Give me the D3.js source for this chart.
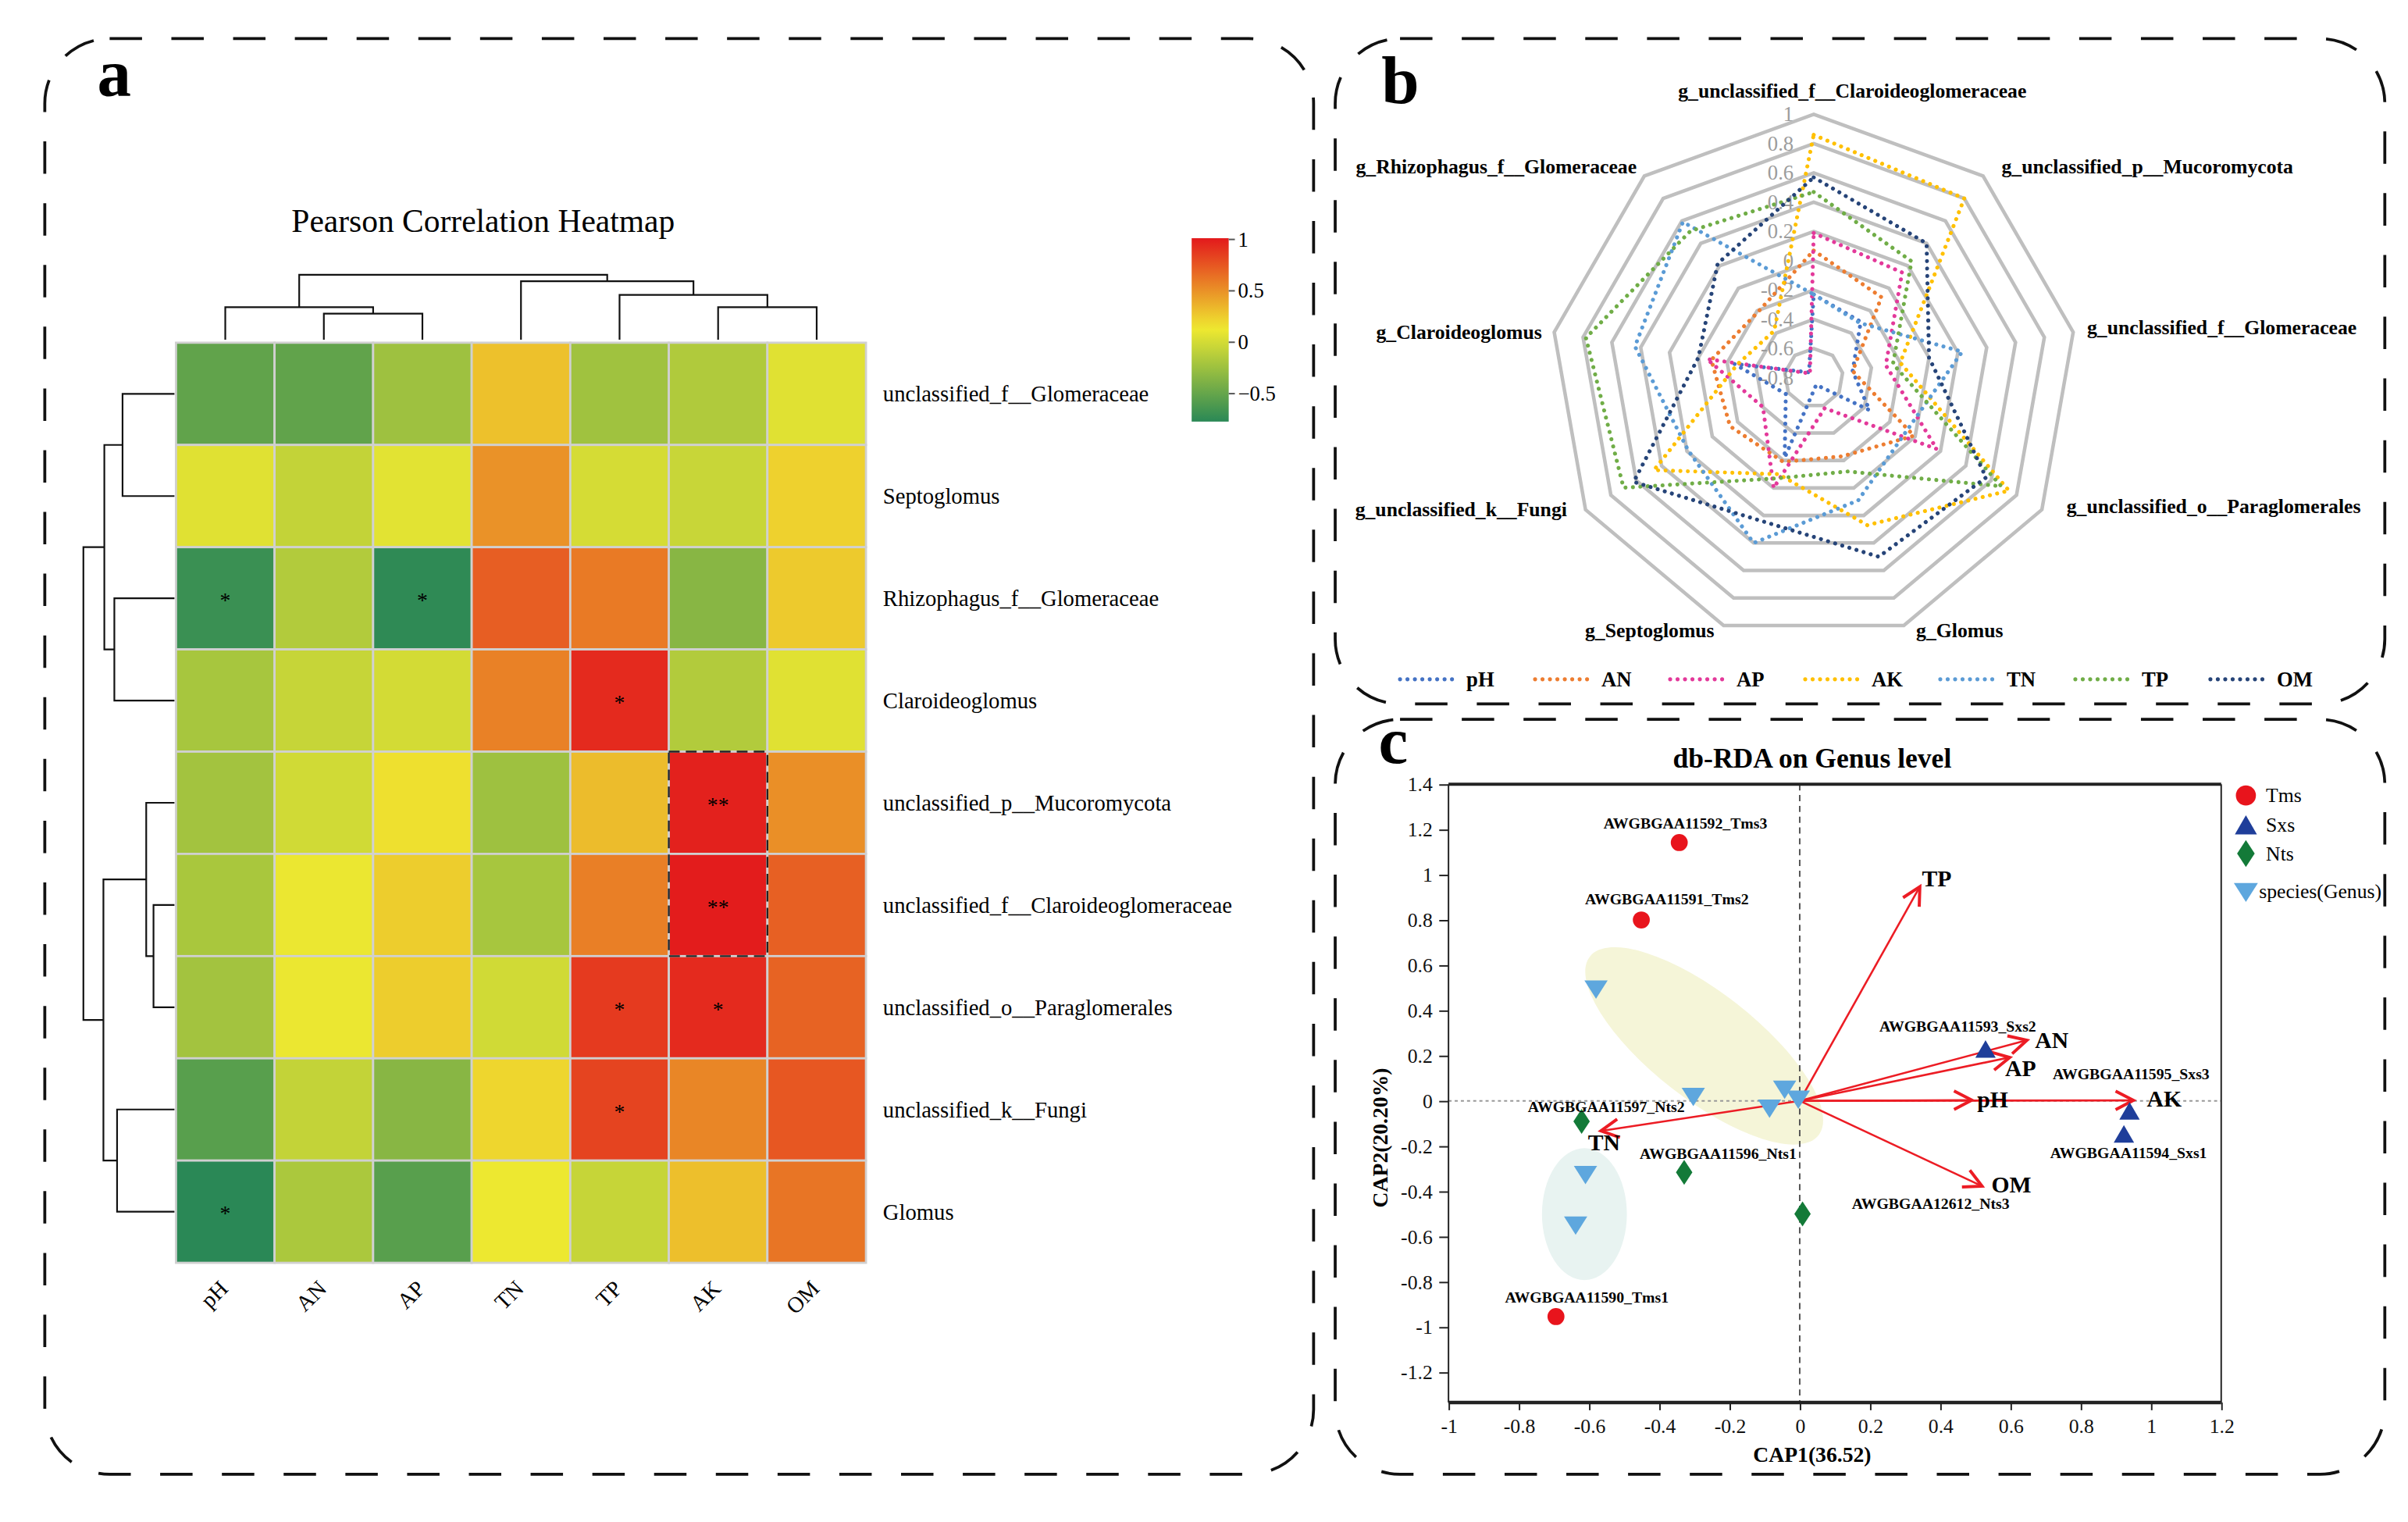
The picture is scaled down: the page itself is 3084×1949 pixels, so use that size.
<!DOCTYPE html>
<html><head><meta charset="utf-8">
<script src="https://cdn.jsdelivr.net/npm/d3@7/dist/d3.min.js"></script>
<style>
html,body{margin:0;padding:0;background:#fff;}
svg{display:block;}
text{font-family:"Liberation Serif","Times New Roman",serif;}
</style></head><body>
<svg id="chart" width="3084" height="1949" viewBox="0 0 1560 985.9"></svg>
<script>
// ================= DATA =================
// Panel a : Pearson correlation heatmap
const envVars = ["pH","AN","AP","TN","TP","AK","OM"];
const heatRows = ["unclassified_f__Glomeraceae","Septoglomus","Rhizophagus_f__Glomeraceae","Claroideoglomus",
  "unclassified_p__Mucoromycota","unclassified_f__Claroideoglomeraceae","unclassified_o__Paraglomerales",
  "unclassified_k__Fungi","Glomus"];
const heatValues = [
  [-0.52,-0.52,-0.24, 0.30,-0.23,-0.16, 0.06],
  [ 0.06,-0.07, 0.07, 0.50, 0.01,-0.05, 0.23],
  [-0.70,-0.15,-0.75, 0.72, 0.60,-0.34, 0.26],
  [-0.20,-0.06, 0.00, 0.57, 0.94,-0.15, 0.06],
  [-0.22,-0.01, 0.17,-0.24, 0.32, 0.98, 0.51],
  [-0.19, 0.11, 0.25,-0.20, 0.58, 1.00, 0.71],
  [-0.22, 0.11, 0.25,-0.01, 0.87, 0.94, 0.70],
  [-0.56,-0.07,-0.34, 0.21, 0.83, 0.55, 0.75],
  [-0.77,-0.18,-0.56, 0.12,-0.06, 0.31, 0.62]
];
const heatSig = [
  ["","","","","","",""],
  ["","","","","","",""],
  ["*","","*","","","",""],
  ["","","","","*","",""],
  ["","","","","","**",""],
  ["","","","","","**",""],
  ["","","","","*","*",""],
  ["","","","","*","",""],
  ["*","","","","","",""]
];
const heatHighlight = {col:"AK", rows:[4,5]};
const colTree = {h:1.0, children:[
  {h:0.50, children:[{leaf:"pH"},{h:0.40, children:[{leaf:"AN"},{leaf:"AP"}]}]},
  {h:0.90, children:[{leaf:"TN"},{h:0.69, children:[{leaf:"TP"},{h:0.50, children:[{leaf:"AK"},{leaf:"OM"}]}]}]}
]};
const rowTree = {h:1.0, children:[
  {h:0.77, children:[{h:0.57, children:[{leaf:0},{leaf:1}]},{h:0.66, children:[{leaf:2},{leaf:3}]}]},
  {h:0.78, children:[{h:0.31, children:[{leaf:4},{h:0.23, children:[{leaf:5},{leaf:6}]}]},{h:0.63, children:[{leaf:7},{leaf:8}]}]}
]};
const heatLegendTicks = [1,0.5,0,-0.5];

// Panel b : radar
const radarAxes = ["g_unclassified_f__Claroideoglomeraceae","g_unclassified_p__Mucoromycota","g_unclassified_f__Glomeraceae",
  "g_unclassified_o__Paraglomerales","g_Glomus","g_Septoglomus","g_unclassified_k__Fungi","g_Claroideoglomus","g_Rhizophagus_f__Glomeraceae"];
const radarSeries = ["pH","AN","AP","AK","TN","TP","OM"];
const radarPH = [-0.23,-0.30,-0.53,-0.36,-0.75,-0.22,-0.58,-0.25,-0.75];
const radarAN = [ 0.07,-0.08,-0.53,-0.01,-0.23,-0.19,-0.14,-0.09,-0.21];
const radarAP = [ 0.19, 0.14,-0.30, 0.17,-0.58, 0.00,-0.40,-0.06,-0.76];
const radarAK = [ 0.86, 0.80,-0.20, 0.74, 0.27,-0.10, 0.46,-0.27,-0.38];
const radarTN = [-0.23,-0.31, 0.23,-0.07, 0.09, 0.40, 0.19, 0.44, 0.59];
const radarTP = [ 0.47, 0.24,-0.25, 0.68,-0.12,-0.07, 0.70, 0.78, 0.51];
const radarOM = [ 0.57, 0.40, 0.00, 0.56, 0.50, 0.24, 0.62, 0.00, 0.22];
const radarTicks = [1,0.8,0.6,0.4,0.2,0,-0.2,-0.4,-0.6,-0.8];

// Panel c : db-RDA
const sampleNames = ["AWGBGAA11592_Tms3","AWGBGAA11591_Tms2","AWGBGAA11590_Tms1","AWGBGAA11593_Sxs2","AWGBGAA11594_Sxs1",
  "AWGBGAA11595_Sxs3","AWGBGAA11597_Nts2","AWGBGAA11596_Nts1","AWGBGAA12612_Nts3"];
const sampleGroup = ["Tms","Tms","Tms","Sxs","Sxs","Sxs","Nts","Nts","Nts"];
const sampleCAP1 = [-0.343,-0.451,-0.694, 0.529, 0.923, 0.939,-0.621,-0.329, 0.008];
const sampleCAP2 = [ 1.142, 0.800,-0.954, 0.227,-0.148,-0.046,-0.091,-0.316,-0.500];
const speciesCAP1 = [-0.580,-0.303,-0.043,-0.004,-0.086,-0.610,-0.638];
const speciesCAP2 = [ 0.497, 0.022, 0.054, 0.010,-0.030,-0.323,-0.547];
const envNames = ["TP","AN","AP","pH","AK","OM","TN"];
const envCAP1 = [0.342,0.647,0.598,0.490,0.950,0.519,-0.566];
const envCAP2 = [0.947,0.268,0.192,0.003,0.002,-0.377,-0.133];
const groupNames = ["Tms","Sxs","Nts","species(Genus)"];
const xTicksRDA = [-1,-0.8,-0.6,-0.4,-0.2,0,0.2,0.4,0.6,0.8,1,1.2];
const yTicksRDA = [1.4,1.2,1,0.8,0.6,0.4,0.2,0,-0.2,-0.4,-0.6,-0.8,-1,-1.2];

// ================= DRAW =================
const svg = d3.select("#chart");
const SERIF = '"Liberation Serif","Times New Roman",serif';
const SANS = '"Liberation Sans",Arial,sans-serif';

// ---- panel frames ----
function roundRectPath(x0,y0,x1,y1,r){
  return `M${x0+r},${y0}H${x1-r}A${r},${r} 0 0 1 ${x1},${y0+r}V${y1-r}A${r},${r} 0 0 1 ${x1-r},${y1}H${x0+r}A${r},${r} 0 0 1 ${x0},${y1-r}V${y0+r}A${r},${r} 0 0 1 ${x0+r},${y0}Z`;
}
const frames = [[29,25,851,955],[865,25,1545,456],[865,466,1545,955]];
svg.append("g").selectAll("path").data(frames).join("path")
  .attr("d",d=>roundRectPath(d[0],d[1],d[2],d[3],42))
  .attr("fill","none").attr("stroke","#111").attr("stroke-width",1.9).attr("stroke-dasharray","21 19");

const letters = [["a",63,62,44],["b",895,67,44],["c",893,494,43]];
svg.append("g").selectAll("text").data(letters).join("text")
  .attr("x",d=>d[1]).attr("y",d=>d[2]).text(d=>d[0])
  .attr("font-size",d=>d[3]).attr("font-weight","bold").attr("fill","#000");

// ================= PANEL A =================
const gA = svg.append("g");
const hx = d3.scaleBand().domain(envVars).range([114,561]);
const hy = d3.scaleBand().domain(d3.range(heatRows.length)).range([222,818]);
const heatColor = d3.scaleLinear().domain([-0.772,0.13,1.012]).range(["#2a8856","#efe930","#e3191c"]).clamp(true);

gA.append("text").attr("x",313).attr("y",150).attr("text-anchor","middle")
  .attr("font-size",21).text("Pearson Correlation Heatmap");

const cells = [];
heatValues.forEach((row,i)=>row.forEach((v,j)=>cells.push({i,j,v,s:heatSig[i][j]})));
gA.append("g").selectAll("rect").data(cells).join("rect")
  .attr("x",d=>hx(envVars[d.j])).attr("y",d=>hy(d.i))
  .attr("width",hx.bandwidth()).attr("height",hy.bandwidth())
  .attr("fill",d=>heatColor(d.v)).attr("stroke","#d0d0d0").attr("stroke-width",1.4);
gA.append("g").selectAll("text").data(cells.filter(d=>d.s)).join("text")
  .attr("x",d=>hx(envVars[d.j])+hx.bandwidth()/2).attr("y",d=>hy(d.i)+hy.bandwidth()/2+6)
  .attr("text-anchor","middle").attr("font-size",14).text(d=>d.s);
gA.append("rect")
  .attr("x",hx(heatHighlight.col)).attr("y",hy(heatHighlight.rows[0]))
  .attr("width",hx.bandwidth()).attr("height",hy.bandwidth()*heatHighlight.rows.length)
  .attr("fill","none").attr("stroke","#222").attr("stroke-width",1.2).attr("stroke-dasharray","7 4");

// row labels
gA.append("g").selectAll("text").data(heatRows).join("text")
  .attr("x",572).attr("y",(d,i)=>hy(i)+hy.bandwidth()/2).attr("dominant-baseline","central")
  .attr("font-size",14.5).text(d=>d);
// column labels
gA.append("g").selectAll("text").data(envVars).join("text")
  .attr("transform",d=>`translate(${hx(d)+hx.bandwidth()/2-1},832) rotate(-45)`)
  .attr("text-anchor","end").attr("dominant-baseline","central").attr("font-size",14.5).text(d=>d);

// dendrograms
const colH = d3.scaleLinear().domain([0,1]).range([220,178]);
const rowH = d3.scaleLinear().domain([0,1]).range([113,54]);
function dendro(g,node,posOf,hOf,orient){
  if(node.leaf!==undefined) return [posOf(node.leaf),0];
  const a = dendro(g,node.children[0],posOf,hOf,orient);
  const b = dendro(g,node.children[1],posOf,hOf,orient);
  const d = orient==="top"
    ? `M${a[0]},${hOf(a[1])}V${hOf(node.h)}H${b[0]}V${hOf(b[1])}`
    : `M${hOf(a[1])},${a[0]}H${hOf(node.h)}V${b[0]}H${hOf(b[1])}`;
  g.append("path").attr("d",d).attr("fill","none").attr("stroke","#111").attr("stroke-width",1.1);
  return [(a[0]+b[0])/2,node.h];
}
dendro(gA.append("g"),colTree,k=>hx(k)+hx.bandwidth()/2,colH,"top");
dendro(gA.append("g"),rowTree,k=>hy(k)+hy.bandwidth()/2,rowH,"left");

// color legend
const legY = d3.scaleLinear().domain([-0.772,1.012]).range([273.1,154.3]);
const grad = svg.append("defs").append("linearGradient").attr("id","heatGrad")
  .attr("x1",0).attr("y1",1).attr("x2",0).attr("y2",0);
d3.range(0,1.0001,0.05).forEach(t=>{
  const v = -0.772 + t*(1.012+0.772);
  grad.append("stop").attr("offset",t).attr("stop-color",heatColor(v));
});
gA.append("rect").attr("x",772).attr("y",legY(1.012)).attr("width",24).attr("height",legY(-0.772)-legY(1.012))
  .attr("fill","url(#heatGrad)");
const lt = gA.append("g").selectAll("g").data(heatLegendTicks).join("g")
  .attr("transform",d=>`translate(796,${legY(d)})`);
lt.append("line").attr("x1",0).attr("x2",4).attr("stroke","#555").attr("stroke-width",1);
lt.append("text").attr("x",6).attr("dominant-baseline","central").attr("font-size",13.5)
  .text(d=>d<0?"\u2212"+(-d):String(d));

// ================= PANEL B =================
const gB = svg.append("g");
const rcx = 1175, rcy = 244.8, rR = 170.7;
const rScale = d3.scaleLinear().domain([-0.8,1]).range([0,rR]);
const ang = i => i*2*Math.PI/radarAxes.length;
const rpt = (i,v) => [rcx + rScale(v)*Math.sin(ang(i)), rcy - rScale(v)*Math.cos(ang(i))];
const closedLine = d3.line().curve(d3.curveLinearClosed);

gB.append("g").selectAll("path").data(radarTicks.filter(t=>t>-0.8)).join("path")
  .attr("d",t=>closedLine(radarAxes.map((a,i)=>rpt(i,t))))
  .attr("fill","none").attr("stroke","#bfbfbf").attr("stroke-width",2.3);
gB.append("g").selectAll("text").data(radarTicks).join("text")
  .attr("x",rcx-13).attr("y",t=>rcy-rScale(t)).attr("text-anchor","end").attr("dominant-baseline","central")
  .attr("font-family",SANS).attr("font-size",13.5).attr("fill","#9c9c9c")
  .text(t=>t<0?"-"+(-t):String(t));

const radarData = [radarPH,radarAN,radarAP,radarAK,radarTN,radarTP,radarOM];
const radarColors = ["#4472c4","#ed7d31","#e3399a","#ffc000","#5b9bd5","#70ad47","#264478"];
gB.append("g").selectAll("path").data(radarData).join("path")
  .attr("d",vals=>closedLine(vals.map((v,i)=>rpt(i,v))))
  .attr("fill","none").attr("stroke",(d,k)=>radarColors[k]).attr("stroke-width",2.6)
  .attr("stroke-linecap","round").attr("stroke-dasharray","0.01 4.8");

const radarLabelOffsets = [[25,-15,"middle"],[12,-6,"start"],[9,-3,"start"],[16,-2,"start"],[8,3.5,"start"],
  [-6,3.5,"end"],[-12,0,"end"],[-8,0,"end"],[-5,-6,"end"]];
gB.append("g").selectAll("text").data(radarAxes).join("text")
  .attr("x",(d,i)=>rpt(i,1)[0]+radarLabelOffsets[i][0])
  .attr("y",(d,i)=>rpt(i,1)[1]+radarLabelOffsets[i][1])
  .attr("text-anchor",(d,i)=>radarLabelOffsets[i][2]).attr("dominant-baseline","central")
  .attr("font-size",13).attr("font-weight","bold").text(d=>d);

const rLegX = d3.scaleLinear().domain([0,radarSeries.length-1]).range([907,1432]);
const rl = gB.append("g").selectAll("g").data(radarSeries).join("g")
  .attr("transform",(d,i)=>`translate(${rLegX(i)},440)`);
rl.append("line").attr("x1",0).attr("x2",38).attr("stroke",(d,i)=>radarColors[i]).attr("stroke-width",2.6)
  .attr("stroke-linecap","round").attr("stroke-dasharray","0.01 4.8");
rl.append("text").attr("x",43).attr("dominant-baseline","central").attr("font-size",13.5)
  .attr("font-weight","bold").text(d=>d);

// ================= PANEL C =================
const gC = svg.append("g");
const X = d3.scaleLinear().domain([-1,1.2]).range([938.4,1439]);
const Y = d3.scaleLinear().domain([-1.334,1.4]).range([908.5,508]);

gC.append("text").attr("x",1174).attr("y",497).attr("text-anchor","middle")
  .attr("font-size",18).attr("font-weight","bold").text("db-RDA on Genus level");

// ellipses (centre in data units)
gC.append("ellipse").attr("transform",`translate(${X(-0.272)},${Y(0.243)}) rotate(38)`)
  .attr("rx",94).attr("ry",34.5).attr("fill","#f5f5d8");
gC.append("ellipse").attr("transform",`translate(${X(-0.613)},${Y(-0.501)})`)
  .attr("rx",27.5).attr("ry",42.7).attr("fill","#e8f3f1");

// zero lines
gC.append("line").attr("x1",X(0)).attr("x2",X(0)).attr("y1",Y(1.4)).attr("y2",Y(-1.334))
  .attr("stroke","#555").attr("stroke-width",1).attr("stroke-dasharray","4 3");
gC.append("line").attr("x1",X(-1)).attr("x2",X(1.2)).attr("y1",Y(0)).attr("y2",Y(0))
  .attr("stroke","#999").attr("stroke-width",1).attr("stroke-dasharray","2 2");

// frame
gC.append("line").attr("x1",X(-1)).attr("x2",X(-1)).attr("y1",Y(1.4)).attr("y2",Y(-1.334)).attr("stroke","#222").attr("stroke-width",1);
gC.append("line").attr("x1",X(1.2)).attr("x2",X(1.2)).attr("y1",Y(1.4)).attr("y2",Y(-1.334)).attr("stroke","#222").attr("stroke-width",1);
gC.append("line").attr("x1",X(-1)).attr("x2",X(1.2)).attr("y1",Y(1.4)).attr("y2",Y(1.4)).attr("stroke","#222").attr("stroke-width",2);
gC.append("line").attr("x1",X(-1)).attr("x2",X(1.2)).attr("y1",Y(-1.334)).attr("y2",Y(-1.334)).attr("stroke","#222").attr("stroke-width",2.2);

// axes
const xAxis = d3.axisBottom(X).tickValues(xTicksRDA).tickSize(5).tickFormat(d=>String(+d.toFixed(1)));
const yAxis = d3.axisLeft(Y).tickValues(yTicksRDA).tickSize(6).tickFormat(d=>String(+d.toFixed(1)));
const gx = gC.append("g").attr("transform",`translate(0,${Y(-1.334)})`).call(xAxis);
const gy = gC.append("g").attr("transform",`translate(${X(-1)},0)`).call(yAxis);
[gx,gy].forEach(g=>{
  g.select(".domain").remove();
  g.selectAll("line").attr("stroke","#222");
  g.selectAll("text").attr("font-family",SERIF).attr("font-size",13).attr("fill","#111");
});
gx.selectAll("text").attr("dy","0.9em");
gy.selectAll("text").attr("dx","-0.1em");

gC.append("text").attr("x",1174).attr("y",947).attr("text-anchor","middle")
  .attr("font-size",14).attr("font-weight","bold").text("CAP1(36.52)");
gC.append("text").attr("transform","translate(899,737) rotate(-90)").attr("text-anchor","middle")
  .attr("font-family",SANS).attr("font-size",14).attr("font-weight","bold").text("CAP2(20.20%)");

// arrows
const arrowColor = "#ec1c24";
const env = envNames.map((n,i)=>({n,x:envCAP1[i],y:envCAP2[i]}));
const ga = gC.append("g");
env.forEach(e=>{
  const x0=X(0),y0=Y(0),x1=X(e.x),y1=Y(e.y);
  ga.append("line").attr("x1",x0).attr("y1",y0).attr("x2",x1).attr("y2",y1)
    .attr("stroke",arrowColor).attr("stroke-width",1.3);
  const th = Math.atan2(y1-y0,x1-x0), L=13, a=0.48;
  const p1=[x1-L*Math.cos(th-a),y1-L*Math.sin(th-a)], p2=[x1-L*Math.cos(th+a),y1-L*Math.sin(th+a)];
  ga.append("path").attr("d",`M${p1[0]},${p1[1]}L${x1},${y1}L${p2[0]},${p2[1]}`)
    .attr("fill","none").attr("stroke",arrowColor).attr("stroke-width",2);
});
const envLabelOffsets = {TP:[11,-5.5],AN:[16,0],AP:[7,7],pH:[13.5,-0.5],AK:[20,-1],OM:[19,-0.7],TN:[2,7.6]};
ga.selectAll("text").data(env).join("text")
  .attr("x",d=>X(d.x)+envLabelOffsets[d.n][0]).attr("y",d=>Y(d.y)+envLabelOffsets[d.n][1])
  .attr("text-anchor","middle").attr("dominant-baseline","central")
  .attr("font-size",15).attr("font-weight","bold").text(d=>d.n);

// symbols
const groupColor = {Tms:"#e8141c",Sxs:"#1f3e9a",Nts:"#137a38","species(Genus)":"#5ea7de"};
function symbolPath(group,s){
  if(group==="Tms") return d3.symbol(d3.symbolCircle, Math.PI*s*s)();
  if(group==="Sxs") return `M0,${-s}L${s*1.1},${s*0.9}L${-s*1.1},${s*0.9}Z`;
  if(group==="Nts") return `M0,${-s*1.45}L${s*0.95},0L0,${s*1.45}L${-s*0.95},0Z`;
  return `M${-s*1.3},${-s*0.9}L${s*1.3},${-s*0.9}L0,${s*1.15}Z`;
}
// species
gC.append("g").selectAll("path").data(speciesCAP1.map((x,i)=>({x,y:speciesCAP2[i]}))).join("path")
  .attr("transform",d=>`translate(${X(d.x)},${Y(d.y)})`)
  .attr("d",symbolPath("species(Genus)",5.8)).attr("fill",groupColor["species(Genus)"]);
// samples
const samples = sampleNames.map((n,i)=>({n,g:sampleGroup[i],x:sampleCAP1[i],y:sampleCAP2[i]}));
gC.append("g").selectAll("path").data(samples).join("path")
  .attr("transform",d=>`translate(${X(d.x)},${Y(d.y)})`)
  .attr("d",d=>symbolPath(d.g,d.g==="Tms"?5.5:(d.g==="Sxs"?6:5.6))).attr("fill",d=>groupColor[d.g]);
const sampleLabelOffsets = [[4,-9],[16.5,-10],[20,-9],[-18,-11.5],[3,15.5],[1,-20.5],[16,-6],[22,-8.5],[83,-3.5]];
gC.append("g").selectAll("text").data(samples).join("text")
  .attr("x",(d,i)=>X(d.x)+sampleLabelOffsets[i][0]).attr("y",(d,i)=>Y(d.y)+sampleLabelOffsets[i][1])
  .attr("text-anchor","middle").attr("font-size",10).attr("font-weight","bold").text(d=>d.n);

// legend
const legYc = [515.3,534.6,552.9,577.4];
const lg = gC.append("g").selectAll("g").data(groupNames).join("g")
  .attr("transform",(d,i)=>`translate(1455,${legYc[i]})`);
lg.append("path").attr("d",d=>symbolPath(d,d==="Tms"?6.5:(d==="Sxs"?6.5:6))).attr("fill",d=>groupColor[d]);
lg.append("text").attr("x",(d)=>d==="species(Genus)"?8.5:13).attr("dominant-baseline","central")
  .attr("font-size",13).text(d=>d);
</script>
</body></html>
